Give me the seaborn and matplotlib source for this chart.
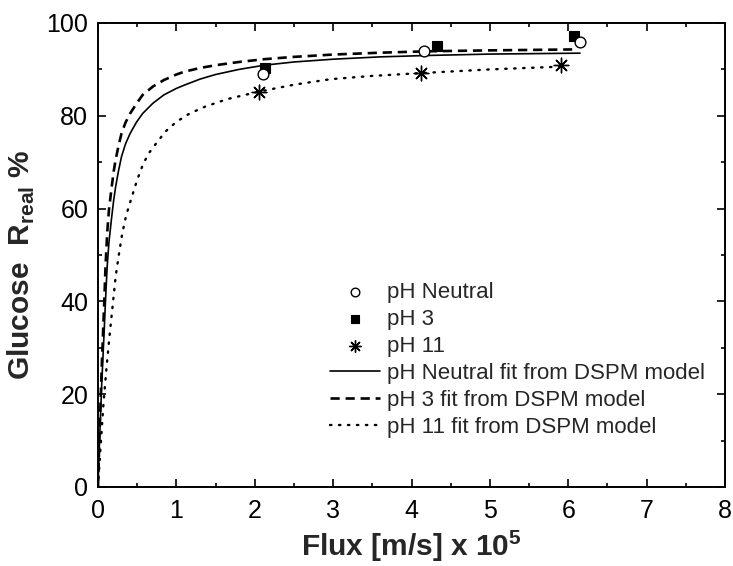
import numpy as np
import pandas as pd
import matplotlib
matplotlib.use("Agg")
import matplotlib.pyplot as plt
import seaborn as sns

# Measured glucose rejection (%) against permeate flux (m/s x 1e5)
neutral_flux = [2.10, 4.16, 6.15]
neutral_rej = [89.0, 94.0, 96.0]
ph3_flux = [2.13, 4.32, 6.07]
ph3_rej = [90.4, 95.0, 97.2]
ph11_flux = [2.06, 4.12, 5.91]
ph11_rej = [85.1, 89.2, 91.0]

# DSPM model fit curves
fit_neutral_flux = [0.0, 0.02, 0.047, 0.077, 0.096, 0.117, 0.14, 0.17, 0.20, 0.225,
                    0.26, 0.30, 0.35, 0.41, 0.49, 0.57, 0.70, 0.84, 1.00, 1.10,
                    1.30, 1.50, 1.80, 2.12, 2.50, 3.00, 3.60, 4.20, 5.00, 6.15]
fit_neutral_rej = [0.0, 10.0, 22.0, 33.0, 40.3, 47.5, 52.8, 57.5, 61.8, 64.7,
                   68.0, 71.2, 73.9, 76.2, 78.6, 80.5, 82.7, 84.5, 85.9, 86.6,
                   87.9, 88.9, 90.0, 90.9, 91.6, 92.2, 92.7, 93.0, 93.3, 93.5]
fit_ph3_flux = [0.0, 0.02, 0.05, 0.08, 0.096, 0.117, 0.14, 0.17, 0.20, 0.225,
                0.26, 0.30, 0.35, 0.41, 0.49, 0.57, 0.70, 0.84, 1.00, 1.10,
                1.30, 1.50, 1.80, 2.12, 2.50, 3.00, 3.60, 4.20, 5.00, 6.05]
fit_ph3_rej = [0.0, 12.0, 27.0, 40.0, 47.5, 54.7, 59.8, 64.0, 68.0, 70.5,
               73.4, 76.2, 78.5, 80.5, 82.6, 84.5, 86.3, 87.7, 88.9, 89.5,
               90.3, 90.9, 91.6, 92.2, 92.7, 93.2, 93.6, 93.9, 94.1, 94.3]
fit_ph11_flux = [0.0, 0.03, 0.07, 0.11, 0.15, 0.19, 0.225, 0.27, 0.31, 0.36,
                 0.42, 0.50, 0.58, 0.66, 0.74, 0.86, 1.00, 1.17, 1.37, 1.65,
                 2.05, 2.50, 2.97, 3.50, 4.12, 5.00, 5.91]
fit_ph11_rej = [0.0, 8.0, 18.0, 26.0, 33.0, 39.6, 45.3, 50.5, 54.7, 58.6,
                61.9, 66.2, 69.8, 72.2, 74.0, 76.6, 78.7, 80.5, 82.0, 83.6,
                85.2, 86.7, 87.9, 88.6, 89.2, 90.0, 90.6]

x_ticks = [0, 1, 2, 3, 4, 5, 6, 7, 8]
y_ticks = [0, 20, 40, 60, 80, 100]

sns.set_style("ticks")
plt.rcParams["font.family"] = ["Liberation Sans", "DejaVu Sans"]
plt.rcParams["mathtext.fontset"] = "custom"
plt.rcParams["mathtext.rm"] = "Liberation Sans"
plt.rcParams["mathtext.bf"] = "Liberation Sans:bold"

fig = plt.figure(figsize=(7.33, 5.66), dpi=100)
ax = fig.add_axes([98 / 733, 1 - 487 / 566, 627 / 733, 464 / 566])

# Fit curves
curves = [
    (fit_neutral_flux, fit_neutral_rej, "pH Neutral fit from DSPM model", None, 1.2),
    (fit_ph3_flux, fit_ph3_rej, "pH 3 fit from DSPM model", (3.5, 2.2), 1.9),
    (fit_ph11_flux, fit_ph11_rej, "pH 11 fit from DSPM model", (0.6, 3.2), 1.7),
]
for fx, fy, lab, dash, lw in curves:
    df = pd.DataFrame({"flux": fx, "rej": fy})
    sns.lineplot(data=df, x="flux", y="rej", color="black", linewidth=lw,
                 label=lab, ax=ax, estimator=None, sort=False)
    ln = ax.lines[-1]
    if dash is not None:
        ln.set_dashes(dash)
        ln.set_dash_capstyle("round" if dash[0] < 1 else "butt")

# Measured points
pts = pd.DataFrame({
    "flux": neutral_flux + ph3_flux + ph11_flux,
    "rej": neutral_rej + ph3_rej + ph11_rej,
    "series": ["pH Neutral"] * 3 + ["pH 3"] * 3 + ["pH 11"] * 3,
})
sns.scatterplot(data=pts[pts.series == "pH 3"], x="flux", y="rej", marker="s",
                color="black", edgecolor="black", s=50, linewidth=0.8,
                label="pH 3", ax=ax, zorder=3)
sns.scatterplot(data=pts[pts.series == "pH Neutral"], x="flux", y="rej", marker="o",
                color="white", edgecolor="black", s=60, linewidth=1.0,
                label="pH Neutral", ax=ax, zorder=4)
sns.scatterplot(data=pts[pts.series == "pH 11"], x="flux", y="rej", marker=(8, 2, 0),
                color="black", edgecolor="black", s=110, linewidth=1.0,
                label="pH 11", ax=ax, zorder=3)

ax.set_xlim(0, 8)
ax.set_ylim(0, 100)
ax.set_xticks(x_ticks)
ax.set_yticks(y_ticks)
ax.set_xticks(np.arange(0.5, 8, 1.0), minor=True)
ax.set_yticks(np.arange(10, 100, 20), minor=True)

for sp in ax.spines.values():
    sp.set_visible(True)
    sp.set_linewidth(1.4)
    sp.set_color("black")

ax.tick_params(axis="both", which="major", direction="in", length=6, width=1.2,
               labelsize=18, color="black", labelcolor="black")
ax.tick_params(axis="both", which="minor", direction="in", length=3, width=1.2,
               color="black")
ax.tick_params(axis="x", which="both", pad=9)
ax.tick_params(axis="y", which="both", pad=7)
ax.tick_params(top=True, right=True, which="both")

ax.set_xlabel(r"Flux [m/s] x 10$^{\mathbf{5}}$", fontsize=21.5, fontweight="bold",
              labelpad=3)
ax.set_ylabel(r"Glucose  R$_{\mathbf{real}}$ %", fontsize=21.5, fontweight="bold",
              labelpad=7)
ax.yaxis.set_label_coords(-0.098, 0.48)

handles, labels = ax.get_legend_handles_labels()
order = ["pH Neutral", "pH 3", "pH 11",
         "pH Neutral fit from DSPM model", "pH 3 fit from DSPM model",
         "pH 11 fit from DSPM model"]
hmap = dict(zip(labels, handles))
ax.legend([hmap[k] for k in order], order, loc="upper left",
          bbox_to_anchor=((330 - 98) / 627, (487 - 282) / 464),
          frameon=False, fontsize=16, handlelength=2.25, handletextpad=0.3,
          labelspacing=0.27, borderpad=0, borderaxespad=0, markerscale=0.8)

fig.savefig("out.png", dpi=100)
